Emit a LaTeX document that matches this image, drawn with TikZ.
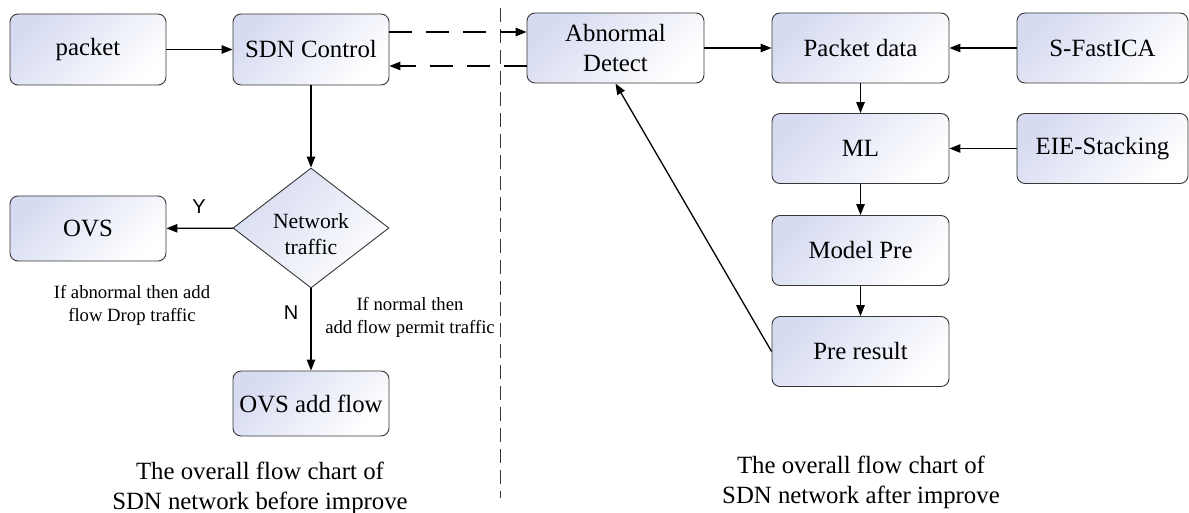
\documentclass[tikz,border=0pt]{standalone}
\usepackage{fontspec}
\setmainfont{Liberation Serif}
\newfontfamily\ynfont{Liberation Sans}
\usetikzlibrary{arrows.meta,shapes.geometric}
\definecolor{lav}{RGB}{214,219,241}
\definecolor{edgec}{RGB}{55,55,55}
\begin{document}
\begin{tikzpicture}[x=1pt,y=-1pt,
  box/.style={draw=edgec, line width=0.9pt, rounded corners=8pt,
    top color=lav, bottom color=white, shading angle=45,
    inner sep=0pt, align=center, font=\fontsize{24.8}{30}\selectfont},
  boxL/.style={box, minimum width=156pt, minimum height=71pt},
  boxLs/.style={box, minimum width=156pt, minimum height=65pt},
  boxR/.style={box, minimum width=177pt, minimum height=70pt},
  boxE/.style={box, minimum width=171pt, minimum height=70pt},
  decision/.style={diamond, aspect=1.3, draw=edgec, line width=0.9pt,
    top color=lav, bottom color=white, shading angle=45,
    minimum width=156pt, minimum height=120pt, inner sep=0pt},
  dtext/.style={align=center, inner sep=0pt, yshift=-6pt,
    font=\fontsize{21.7}{26}\selectfont},
  arr/.style={line width=1.3pt, -{Triangle[length=11pt,width=8.5pt]}},
  dasharr/.style={arr, dash pattern=on 23pt off 14pt},
  note/.style={align=center, inner sep=0pt, font=\fontsize{18.7}{23}\selectfont},
  yn/.style={inner sep=0pt, font=\ynfont\fontsize{20}{24}\selectfont},
  caption/.style={align=center, inner sep=0pt, font=\fontsize{24.8}{30}\selectfont}
]
\useasboundingbox (0,0) rectangle (1189,513);

% left part
\node[boxL] (packet) at (88,49.5) {packet};
\node[boxL] (sdn) at (311,49.5) {SDN Control};
\node[decision, label={[dtext]center:Network\\traffic}] (net) at (311,228) {};
\node[boxLs] (ovs) at (88,228.5) {OVS};
\node[boxLs] (ovsadd) at (311,403.5) {OVS add flow};

\node[yn] (ylab) at (199,207) {Y};
\node[yn] (nlab) at (291,313) {N};
\node[note] (abnote) at (132,305.5) {If abnormal then add\\flow Drop traffic};
\node[note] (nnote) at (410,317.5) {If normal then\\add flow permit traffic};
\node[caption] (capL) at (260,488) {The overall flow chart of\\SDN network before improve};

% divider
\draw[edgec, line width=1pt, dash pattern=on 14pt off 7pt] (500,8) -- (500,498);

% right part
\node[boxR] (abn) at (615.5,48) {Abnormal\\Detect};
\node[boxR] (pkd) at (860.5,48) {Packet data};
\node[boxE] (sfi) at (1102.5,48) {S-FastICA};
\node[boxR] (ml) at (860.5,148.5) {ML};
\node[boxE] (eie) at (1102.5,148.5) {EIE-Stacking};
\node[boxR] (mpre) at (860.5,250.5) {Model Pre};
\node[boxR] (pres) at (860.5,351.5) {Pre result};
\node[caption] (capR) at (861,482) {The overall flow chart of\\SDN network after improve};

% connectors
\draw[arr] (packet) -- (sdn);
\draw[arr] (sdn) -- (net);
\draw[arr] (net) -- (ovs);
\draw[arr] (net) -- (ovsadd);
\draw[dasharr] ([yshift=17.5pt]sdn.east) -- ([yshift=17.5pt]sdn.east -| abn.west);
\draw[dasharr] ([yshift=-18pt]abn.west) -- ([yshift=-18pt]abn.west -| sdn.east);
\draw[arr] (abn) -- (pkd);
\draw[arr] (sfi) -- (pkd);
\draw[arr] (pkd) -- (ml);
\draw[arr] (eie) -- (ml);
\draw[arr] (ml) -- (mpre);
\draw[arr] (mpre) -- (pres);
\draw[arr] (pres.west) -- (abn.south);
\end{tikzpicture}
\end{document}
